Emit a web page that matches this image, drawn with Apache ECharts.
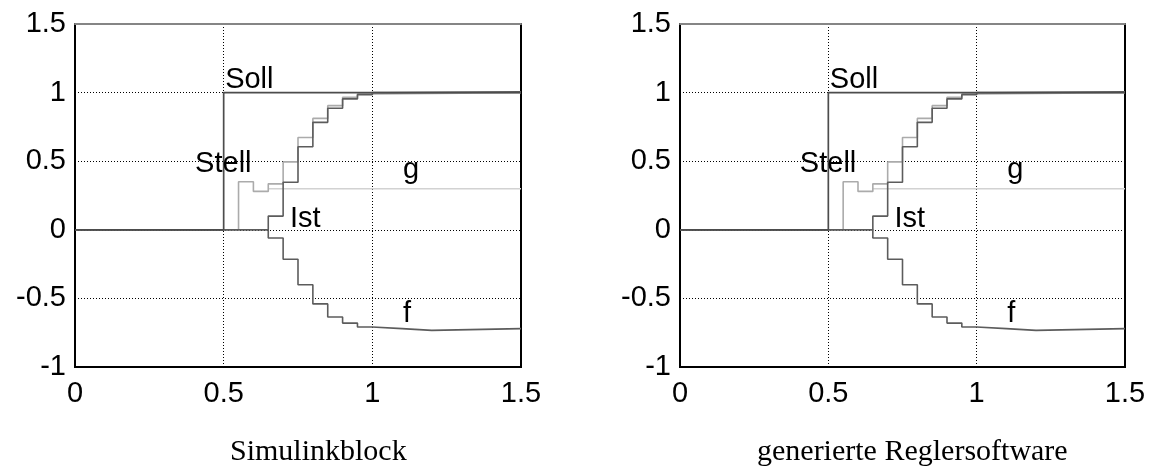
<!DOCTYPE html>
<html>
<head>
<meta charset="utf-8">
<script src="https://cdn.jsdelivr.net/npm/echarts@6/dist/echarts.min.js"></script>
<style>
  html, body { margin: 0; padding: 0; background: #fff; }
  #chart { width: 1153px; height: 470px; }
</style>
</head>
<body>
<div id="chart"></div>
<script>
// sample instants and held values (zero-order hold, Ts = 0.05)
const sollT = [0, 0.5, 1.5];
const sollV = [0, 1, 1];

const stellT = [0, 0.55, 0.6, 0.65, 0.7, 0.75, 0.8, 0.85, 0.9, 0.95, 1.0, 1.5];
const stellV = [0, 0.35, 0.28, 0.335, 0.495, 0.673, 0.812, 0.905, 0.966, 0.99, 1.0, 1.0];

const gT = [0.65, 1.5];
const gV = [0.3, 0.3];

const istT = [0, 0.65, 0.7, 0.75, 0.8, 0.85, 0.9, 0.95, 1.0, 1.05, 1.5];
const istV = [0, 0.1, 0.347, 0.605, 0.783, 0.886, 0.954, 0.985, 1.0, 1.005, 1.005];

const fT = [0, 0.65, 0.7, 0.75, 0.8, 0.85, 0.9, 0.95, 1.0, 1.1, 1.2, 1.5];
const fV = [0, -0.06, -0.215, -0.4, -0.54, -0.636, -0.68, -0.709, -0.72, -0.733, -0.72, -0.72];

// curve annotations: [text, x, y]
const annotations = [
  ["Soll", 0.505, 1.09],
  ["Stell", 0.404, 0.478],
  ["g", 1.103, 0.437],
  ["Ist", 0.723, 0.08],
  ["f", 1.103, -0.616],
];

const captions = ["Simulinkblock", "generierte Reglersoftware"];

const sansFont = "Liberation Sans, Arial, sans-serif";
const serifFont = "Liberation Serif, Times New Roman, serif";

const chart = echarts.init(document.getElementById("chart"));

function pairs(t, v) {
  return t.map((x, i) => [x, v[i]]);
}

const dotted = { show: true, lineStyle: { color: "#000", width: 1, type: [1, 2] } };
const tickFont = { color: "#000", fontSize: 29, fontFamily: sansFont };

function axesFor(gridIndex) {
  const x = {
    type: "value",
    gridIndex,
    min: 0,
    max: 1.5,
    interval: 0.5,
    axisLine: { show: false },
    axisTick: { show: false },
    axisLabel: { ...tickFont, margin: 12 },
    splitLine: dotted,
  };
  // top edge of the frame is drawn lighter in the original
  const xTop = {
    type: "value",
    gridIndex,
    position: "top",
    min: 0,
    max: 1.5,
    interval: 0.5,
    axisLine: { show: true, onZero: false, lineStyle: { color: "#858585", width: 2 } },
    axisTick: { show: false },
    axisLabel: { show: false },
    splitLine: { show: false },
  };
  const y = {
    type: "value",
    gridIndex,
    min: -1,
    max: 1.5,
    interval: 0.5,
    axisLine: { show: false },
    axisTick: { show: false },
    axisLabel: { ...tickFont, margin: 9 },
    splitLine: dotted,
  };
  return { x, xTop, y };
}

function seriesFor(idx) {
  const base = { type: "line", xAxisIndex: idx, yAxisIndex: idx, step: "end", showSymbol: false, silent: true };
  return [
    { ...base, name: "g", data: pairs(gT, gV), lineStyle: { color: "#d2d2d2", width: 1.5 } },
    { ...base, name: "Stell", data: pairs(stellT, stellV), lineStyle: { color: "#ababab", width: 1.6 } },
    { ...base, name: "f", data: pairs(fT, fV), lineStyle: { color: "#5c5c5c", width: 1.6 } },
    { ...base, name: "Ist", data: pairs(istT, istV), lineStyle: { color: "#5c5c5c", width: 1.6 } },
    {
      ...base,
      name: "Soll",
      data: pairs(sollT, sollV),
      lineStyle: { color: "#4c4c4c", width: 1.7 },
      markPoint: {
        symbol: "circle",
        symbolSize: 0,
        silent: true,
        label: {
          show: true,
          position: "right",
          distance: 0,
          color: "#000",
          fontSize: 29,
          fontFamily: sansFont,
        },
        data: annotations.map(([text, x, y]) => ({ coord: [x, y], value: text, label: { formatter: text } })),
      },
    },
  ];
}

const a0 = axesFor(0);
const a1 = axesFor(1);

chart.setOption({
  animation: false,
  backgroundColor: "#fff",
  grid: [
    { left: 75, width: 446, top: 24, height: 343, show: true, borderColor: "#000", borderWidth: 2 },
    { left: 680, width: 445, top: 24, height: 343, show: true, borderColor: "#000", borderWidth: 2 },
  ],
  xAxis: [a0.x, a1.x, a0.xTop, a1.xTop],
  yAxis: [a0.y, a1.y],
  series: [...seriesFor(0), ...seriesFor(1)],
  graphic: [
    {
      type: "text",
      left: 230,
      top: 437,
      style: { text: captions[0], fontSize: 30, fontFamily: serifFont, fill: "#000" },
    },
    {
      type: "text",
      left: 757,
      top: 437,
      style: { text: captions[1], fontSize: 30, fontFamily: serifFont, fill: "#000" },
    },
  ],
});
</script>
</body>
</html>
